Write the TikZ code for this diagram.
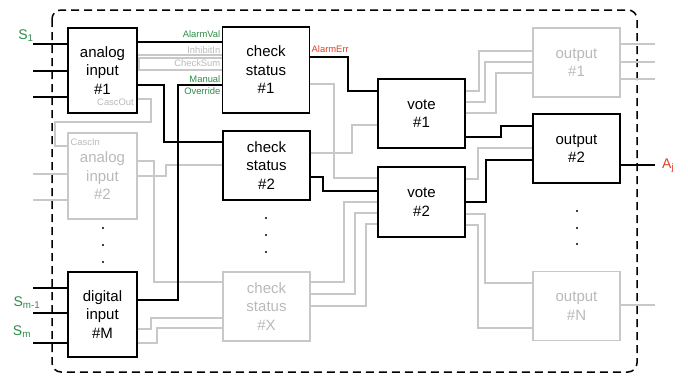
\documentclass[tikz,border=0pt]{standalone}
\usepackage{fontspec}
\setmainfont{Liberation Sans}
\usetikzlibrary{arrows.meta,positioning}
\definecolor{sig}{RGB}{45,140,70}
\definecolor{err}{RGB}{228,62,40}
\definecolor{gry}{RGB}{200,200,200}
\definecolor{gtx}{RGB}{185,185,185}
\tikzset{blk/.style={draw,line width=1.3pt,align=center,inner sep=0pt,minimum width=87pt,
    minimum height=69pt,font=\fontsize{15}{18.5}\selectfont},
  inblk/.style={blk,minimum width=69pt,minimum height=85pt},
  off/.style={draw=gry,text=gtx},
  wire/.style={line width=1.3pt},
  wireoff/.style={wire,gry},
  pin/.style={font=\fontsize{9.4}{11.5}\selectfont,inner sep=0.5pt},
  sname/.style={font=\fontsize{14}{16}\selectfont,inner sep=0pt},
  frame/.style={dash pattern=on 8pt off 5pt,line width=1.5pt,rounded corners=9pt}}
\begin{document}
\begin{tikzpicture}[x=1pt,y=-1pt]
\useasboundingbox (0,0) rectangle (688,375);
\draw[frame] (52,10) rectangle (637,372);
\node[inblk] (ai1) at (102.5,70.5) {analog\\input\\\#1};
\node[inblk,off,minimum height=86pt] (ai2) at (102.5,176) {analog\\input\\\#2};
\node[inblk] (dim) at (102.5,314.5) {digital\\input\\\#M};
\node[blk,minimum height=86pt] (cs1) at (266,70) {check\\status\\\#1};
\node[blk] (cs2) at (266.5,165.5) {check\\status\\\#2};
\node[blk,off] (csx) at (266.5,306.5) {check\\status\\\#X};
\node[blk] (v1) at (421.5,113.5) {vote\\\#1};
\node[blk,minimum height=70pt] (v2) at (421.5,202) {vote\\\#2};
\node[blk,off] (o1) at (576.5,62.5) {output\\\#1};
\node[blk] (o2) at (576.5,148.5) {output\\\#2};
\node[blk,off] (on) at (576.5,306) {output\\\#N};
\node[pin,text=sig,anchor=east] (lav) at (221,34) {AlarmVal};
\node[pin,text=gtx,anchor=east] (lii) at (221,50) {InhibitIn};
\node[pin,text=gtx,anchor=east] (lcs) at (221,63.5) {CheckSum};
\node[pin,text=sig,anchor=east,align=right] (lmo) at (221,85) {Manual\\Override};
\node[pin,text=err,anchor=west] (lae) at (311,49) {AlarmErr};
\node[pin,text=gtx,anchor=east] (lco) at (134.5,102) {CascOut};
\node[pin,text=gtx,anchor=west] (lci) at (70,142) {CascIn};
\node[sname,text=sig] (s1) at (26,36) {S\textsubscript{1}};
\node[sname,text=sig] (sm1) at (27,303) {S\textsubscript{m-1}};
\node[sname,text=sig] (sm) at (22,332) {S\textsubscript{m}};
\node[sname,text=err,anchor=west] (aj) at (662,166) {A\textsubscript{j}};
\foreach \y in {228,245,262} \fill (103,\y) circle (1.1pt);
\foreach \y in {218,235,252} \fill (266,\y) circle (1.1pt);
\foreach \y in {211,228,244} \fill (577,\y) circle (1.1pt);
\foreach \y in {174,200} \draw[wireoff] (33,\y) -- (ai2.west |- 0,\y);
\foreach \y in {44,62,79} \draw[wireoff] (o1.east |- 0,\y) -- (655,\y);
\draw[wireoff] (on.east |- 0,305) -- (655,305);
\draw[wireoff] (ai1.east |- 0,55) -- (cs1.west |- 0,55);
\draw[wireoff] (cs1.west |- 0,58) -- (139,58) -- (139,70) -- (cs1.west |- 0,70);
\draw[wireoff] (ai1.east |- 0,99) -| (151,122) -| (55,146) -- (ai2.west |- 0,146);
\draw[wireoff] (ai2.east |- 0,161) -| (154,282) -- (csx.west |- 0,282);
\draw[wireoff] (ai2.east |- 0,176) -- (166,176) |- (cs2.west |- 0,165);
\draw[wireoff] (dim.east |- 0,329) -- (151,329) |- (csx.west |- 0,318);
\draw[wireoff] (dim.east |- 0,343) -- (157,343) |- (csx.west |- 0,328);
\draw[wireoff] (cs1.east |- 0,84) -| (334,178) -- (v2.west |- 0,178);
\draw[wireoff] (cs2.east |- 0,153) -| (352,125) -- (v1.west |- 0,125);
\draw[wireoff] (csx.east |- 0,282) -| (344,202) -- (v2.west |- 0,202);
\draw[wireoff] (csx.east |- 0,294) -| (355,213) -- (v2.west |- 0,213);
\draw[wireoff] (csx.east |- 0,306) -| (366,224) -- (v2.west |- 0,224);
\draw[wireoff] (v1.east |- 0,91) -| (479,51) -- (o1.west |- 0,51);
\draw[wireoff] (v1.east |- 0,102) -| (485,62) -- (o1.west |- 0,62);
\draw[wireoff] (v1.east |- 0,113) -| (496,73) -- (o1.west |- 0,73);
\draw[wireoff] (v2.east |- 0,179) -| (478,148) -- (o2.west |- 0,148);
\draw[wireoff] (v2.east |- 0,214) -| (485,283) -- (on.west |- 0,283);
\draw[wireoff] (v2.east |- 0,225) -| (478,328) -- (on.west |- 0,328);
\foreach \y in {44,71,97} \draw[wire] (33,\y) -- (ai1.west |- 0,\y);
\foreach \y in {288,313,343} \draw[wire] (33,\y) -- (dim.west |- 0,\y);
\draw[wire] (o2.east |- 0,165) -- (655,165);
\draw[wire] (ai1.east |- 0,42) -- (cs1.west |- 0,42);
\draw[wire] (ai1.east |- 0,85) -| (164,142) -- (cs2.west |- 0,142);
\draw[wire] (dim.east |- 0,300) -| (178,85) -- (cs1.west |- 0,85);
\draw[wire] (cs1.east |- 0,57) -| (348,91) -- (v1.west |- 0,91);
\draw[wire] (cs2.east |- 0,177) -| (323,191) -- (v2.west |- 0,191);
\draw[wire] (v1.east |- 0,137) -| (501,126) -- (o2.west |- 0,126);
\draw[wire] (v2.east |- 0,202) -| (486,160) -- (o2.west |- 0,160);
\end{tikzpicture}
\end{document}
